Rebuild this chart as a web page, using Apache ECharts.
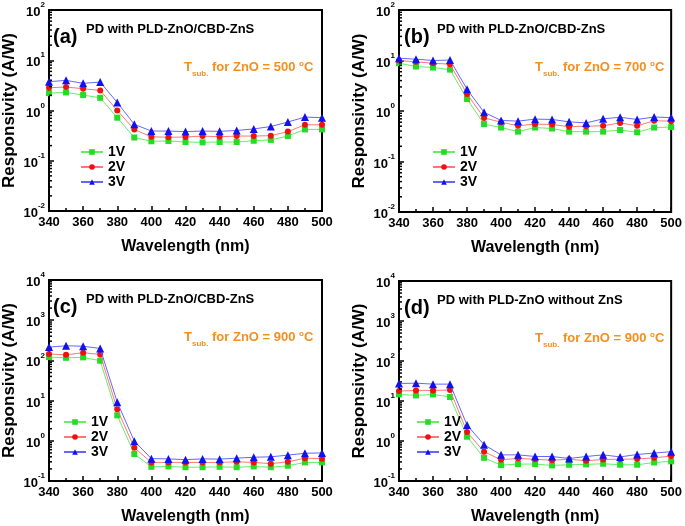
<!DOCTYPE html>
<html>
<head>
<meta charset="utf-8">
<script src="https://cdn.jsdelivr.net/npm/echarts@6/dist/echarts.min.js"></script>
<style>
  html, body { margin: 0; padding: 0; background: #fff; }
  #chart { width: 685px; height: 526px; }
</style>
</head>
<body>
<div id="chart"></div>
<script>
// wavelengths (nm)
var wavelengths = [340, 350, 360, 370, 380, 390, 400, 410, 420, 430, 440, 450, 460, 470, 480, 490, 500];

// (a) 500 C
var a1V = [2.22, 2.29, 2.03, 1.79, 0.72, 0.29, 0.244, 0.247, 0.236, 0.232, 0.236, 0.236, 0.25, 0.26, 0.31, 0.42, 0.42];
var a2V = [2.84, 2.93, 2.71, 2.51, 1.0, 0.417, 0.30, 0.293, 0.297, 0.31, 0.30, 0.31, 0.31, 0.316, 0.38, 0.52, 0.52];
var a3V = [3.74, 3.98, 3.47, 3.68, 1.44, 0.53, 0.39, 0.39, 0.38, 0.39, 0.385, 0.40, 0.43, 0.48, 0.59, 0.74, 0.72];
// (b) 700 C
var b1V = [8.85, 7.6, 7.25, 6.6, 1.73, 0.55, 0.47, 0.39, 0.47, 0.45, 0.39, 0.39, 0.39, 0.42, 0.38, 0.47, 0.48];
var b2V = [10.0, 9.4, 8.85, 8.45, 2.18, 0.73, 0.60, 0.51, 0.55, 0.54, 0.49, 0.50, 0.51, 0.58, 0.51, 0.64, 0.63];
var b3V = [11.1, 10.6, 10.0, 10.2, 2.7, 0.94, 0.65, 0.63, 0.69, 0.68, 0.61, 0.58, 0.70, 0.75, 0.68, 0.76, 0.74];
// (c) 900 C with ZnS
var c1V = [121, 116, 119, 98, 4.3, 0.47, 0.225, 0.23, 0.22, 0.22, 0.225, 0.22, 0.23, 0.22, 0.24, 0.29, 0.29];
var c2V = [144, 138, 155, 141, 6.1, 0.67, 0.29, 0.29, 0.29, 0.29, 0.29, 0.30, 0.29, 0.27, 0.30, 0.37, 0.36];
var c3V = [214, 231, 225, 198, 9.1, 0.98, 0.36, 0.355, 0.34, 0.355, 0.35, 0.37, 0.39, 0.40, 0.44, 0.49, 0.50];
// (d) 900 C without ZnS
var d1V = [14.6, 13.8, 14.6, 12.6, 1.28, 0.38, 0.25, 0.265, 0.265, 0.245, 0.255, 0.26, 0.27, 0.255, 0.255, 0.29, 0.31];
var d2V = [17.7, 18.4, 18.4, 18.8, 1.67, 0.54, 0.34, 0.365, 0.35, 0.33, 0.35, 0.32, 0.345, 0.35, 0.355, 0.38, 0.42];
var d3V = [27.4, 27.9, 26.4, 26.4, 2.5, 0.81, 0.45, 0.45, 0.41, 0.41, 0.365, 0.41, 0.45, 0.40, 0.46, 0.50, 0.54];

var panelLabels = ['(a)', '(b)', '(c)', '(d)'];
var panelTitles = ['PD with PLD-ZnO/CBD-ZnS', 'PD with PLD-ZnO/CBD-ZnS', 'PD with PLD-ZnO/CBD-ZnS', 'PD with PLD-ZnO without ZnS'];
var panelTemps = ['500', '700', '900', '900'];
var yRanges = [[0.01, 100], [0.01, 100], [0.1, 10000], [0.1, 10000]];
var seriesNames = ['1V', '2V', '3V'];

var panelData = [[a1V, a2V, a3V], [b1V, b2V, b3V], [c1V, c2V, c3V], [d1V, d2V, d3V]];

// layout (px)
var grids = [
    { left: 48, top: 10, width: 274, height: 201 },
    { left: 399, top: 10, width: 274, height: 202 },
    { left: 48, top: 280, width: 274, height: 203 },
    { left: 399, top: 281, width: 274, height: 201 }
];
var legendPos = [[80, 145], [432, 145], [63, 415], [416, 415]];

var FONT = '"Liberation Sans", Arial, sans-serif';
var ORANGE = '#F39021';
var symbols = ['rect', 'circle', 'triangle'];
var symbolSizes = [6, 6, 8];
var pointColors = ['#22dd22', '#ee1111', '#1111ee'];
var lineColors = ['#66ee66', '#ff7777', '#6666ff'];

function pairs(xs, ys) {
    var out = [];
    for (var i = 0; i < xs.length; i++) out.push([xs[i], ys[i]]);
    return out;
}

// log minor tick positions (2..9 x 10^k)
function minorLogTicks(range) {
    var out = [];
    for (var e = Math.round(Math.log10(range[0])); e < Math.round(Math.log10(range[1])); e++) {
        for (var m = 2; m <= 9; m++) out.push([340, m * Math.pow(10, e)]);
    }
    return out;
}

var option = {
    backgroundColor: '#fff',
    animation: false,
    textStyle: { fontFamily: FONT },
    grid: [],
    xAxis: [],
    yAxis: [],
    series: [],
    legend: [],
    title: []
};

for (var p = 0; p < 4; p++) {
    var g = grids[p];
    option.grid.push({
        left: g.left, top: g.top, width: g.width, height: g.height,
        show: true, borderColor: '#000', borderWidth: 2, backgroundColor: 'transparent'
    });
    option.xAxis.push({
        type: 'value', gridIndex: p, min: 340, max: 500, interval: 20,
        name: 'Wavelength (nm)', nameLocation: 'middle', nameGap: 28,
        nameTextStyle: { fontFamily: FONT, fontWeight: 'bold', fontSize: 16, color: '#000' },
        axisLine: { lineStyle: { color: '#000', width: 2 } },
        axisTick: { inside: true, length: 5, lineStyle: { color: '#000', width: 1.5 } },
        minorTick: { show: true, splitNumber: 2, length: 3, lineStyle: { color: '#000', width: 1.5 } },
        axisLabel: { fontFamily: FONT, fontWeight: 'bold', fontSize: 13, color: '#000', margin: 5 },
        splitLine: { show: false }
    });
    option.yAxis.push({
        type: 'log', logBase: 10, gridIndex: p, min: yRanges[p][0], max: yRanges[p][1], interval: 1,
        name: 'Responsivity (A/W)', nameLocation: 'middle', nameGap: 31, nameRotate: 90,
        nameTextStyle: { fontFamily: FONT, fontWeight: 'bold', fontSize: 17, color: '#000' },
        axisLine: { lineStyle: { color: '#000', width: 2 } },
        axisTick: { inside: true, length: 5, lineStyle: { color: '#000', width: 1.5 } },
        axisLabel: {
            margin: 4,
            formatter: function (v) {
                return '{b|10}{s|' + Math.round(Math.log10(v)) + '}';
            },
            rich: {
                b: { fontFamily: FONT, fontWeight: 'bold', fontSize: 13, color: '#000', lineHeight: 18, verticalAlign: 'bottom' },
                s: { fontFamily: FONT, fontWeight: 'bold', fontSize: 8, color: '#000', lineHeight: 18, verticalAlign: 'top' }
            }
        },
        splitLine: { show: false }
    });

    // minor log ticks drawn through the axis scale
    option.series.push({
        type: 'custom', xAxisIndex: p, yAxisIndex: p, silent: true, z: 5,
        data: minorLogTicks(yRanges[p]),
        renderItem: function (params, api) {
            var pt = api.coord([api.value(0), api.value(1)]);
            return {
                type: 'line',
                shape: { x1: pt[0], y1: pt[1], x2: pt[0] + 3, y2: pt[1] },
                style: { stroke: '#000', lineWidth: 1.5 }
            };
        }
    });

    for (var s = 0; s < 3; s++) {
        option.series.push({
            name: seriesNames[s], type: 'line', xAxisIndex: p, yAxisIndex: p,
            data: pairs(wavelengths, panelData[p][s]),
            symbol: symbols[s], symbolSize: symbolSizes[s],
            itemStyle: { color: pointColors[s] },
            lineStyle: { color: lineColors[s], width: 1 },
            z: 3 + s
        });
    }

    option.legend.push({
        left: legendPos[p][0], top: legendPos[p][1], orient: 'vertical', padding: 0,
        data: seriesNames, itemWidth: 22, itemHeight: 7, itemGap: 1,
        selectedMode: false,
        textStyle: { fontFamily: FONT, fontWeight: 'bold', fontSize: 14, color: '#000', lineHeight: 14 }
    });

    option.title.push({
        text: panelLabels[p], left: g.left + 5, top: g.top + 17, padding: 0,
        textStyle: { fontFamily: FONT, fontWeight: 'bold', fontSize: 20, color: '#000' }
    });
    option.title.push({
        text: panelTitles[p], left: g.left + 38, top: g.top + 13, padding: 0,
        textStyle: { fontFamily: FONT, fontWeight: 'bold', fontSize: 13, color: '#000' }
    });
    option.title.push({
        text: '{t|T}{s|sub.}{t| for ZnO = ' + panelTemps[p] + ' }{o|o}{t|C}',
        left: g.left + 136, top: g.top + 46, padding: 0,
        textStyle: {
            rich: {
                t: { fontFamily: FONT, fontWeight: 'bold', fontSize: 13, color: ORANGE, lineHeight: 22, verticalAlign: 'middle' },
                s: { fontFamily: FONT, fontWeight: 'bold', fontSize: 8, color: ORANGE, lineHeight: 22, verticalAlign: 'bottom' },
                o: { fontFamily: FONT, fontWeight: 'bold', fontSize: 8, color: ORANGE, lineHeight: 22, verticalAlign: 'top', padding: [4, 0, 0, 0] }
            }
        }
    });
}

var chart = echarts.init(document.getElementById('chart'));
chart.setOption(option);
</script>
</body>
</html>
